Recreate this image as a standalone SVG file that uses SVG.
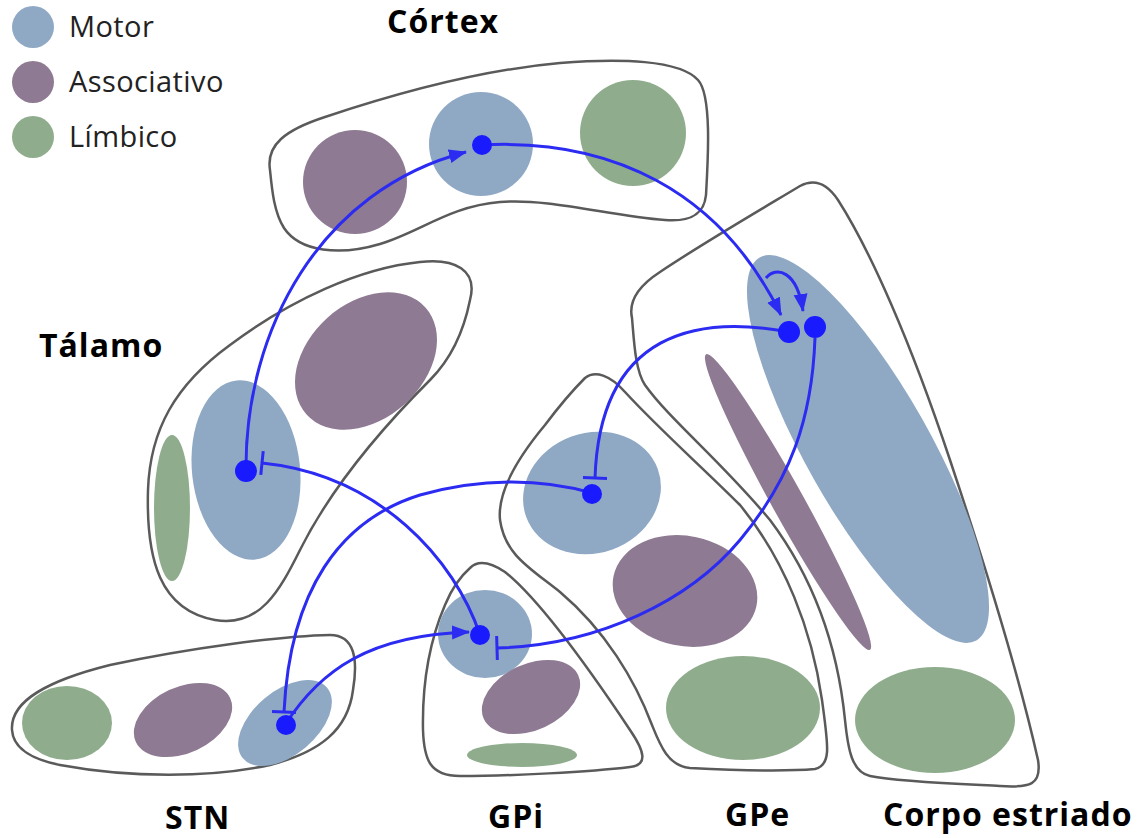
<svg xmlns="http://www.w3.org/2000/svg" width="1148" height="838" viewBox="0 0 1148 838">
<style>
.outline{fill:none;stroke:#5a5a5a;stroke-width:2.5;stroke-linejoin:round}
.mot{fill:#8fa9c5}
.asc{fill:#8e7a92}
.lim{fill:#8fad8d}
.conn{fill:none;stroke:#2b2bf2;stroke-width:3}
.dot{fill:#1a1aff}
.lbl{font-family:"Open Sans","Noto Sans",sans-serif;font-weight:bold;font-size:32px;letter-spacing:1px;fill:#000}
.leg{font-family:"Open Sans","Noto Sans",sans-serif;font-size:29px;letter-spacing:0.4px;fill:#222}
</style>
<defs>
<marker id="arrow" markerUnits="userSpaceOnUse" markerWidth="20" markerHeight="16" refX="17" refY="7" orient="auto">
<path d="M0,0 L18,7 L0,14 Z" fill="#2b2bf2"/>
</marker>
<marker id="tee" markerUnits="userSpaceOnUse" markerWidth="6" markerHeight="28" refX="3" refY="13" orient="auto">
<path d="M3,1 L3,25" stroke="#2b2bf2" stroke-width="3"/>
</marker>
</defs>
<rect width="1148" height="838" fill="#fff"/>

<g id="legend">
<circle cx="33" cy="27" r="21" class="mot"/>
<circle cx="33" cy="82" r="21" class="asc"/>
<circle cx="33" cy="137" r="21" class="lim"/>
<text x="69" y="37" class="leg">Motor</text>
<text x="69" y="92" class="leg">Associativo</text>
<text x="69" y="147" class="leg">Límbico</text>
</g>

<g id="cortex">
<path class="outline" d="M270,170 C266,145 285,130 325,117 C400,92 480,70 560,63 C620,58 680,60 698,80 C712,95 708,160 706,195 C704,215 690,222 665,220 C610,216 550,198 500,202 C450,206 420,232 380,244 C340,256 300,252 284,228 C274,212 272,190 270,170 Z"/>
<circle cx="355" cy="182" r="52" class="asc"/>
<circle cx="481" cy="144" r="52" class="mot"/>
<circle cx="633" cy="133" r="53" class="lim"/>
<text x="387" y="33" class="lbl">Córtex</text>
</g>

<g id="talamo">
<path class="outline" d="M470,300 C478,270 455,258 420,262 C360,268 290,300 230,345 C175,385 150,430 148,490 C146,560 160,610 215,620 C260,628 280,590 300,550 C330,490 380,430 430,380 C455,355 465,325 470,300 Z"/>
<ellipse cx="366" cy="361" rx="80" ry="58" transform="rotate(-42 366 361)" class="asc"/>
<ellipse cx="246" cy="470" rx="54" ry="90" transform="rotate(-6 246 470)" class="mot"/>
<ellipse cx="172" cy="508" rx="18" ry="73" class="lim"/>
<text x="39" y="357" class="lbl">Tálamo</text>
</g>

<g id="stn">
<path class="outline" d="M12,730 C10,700 50,680 110,665 C190,648 280,636 330,635 C355,635 358,660 353,690 C348,730 320,752 270,765 C210,778 130,778 60,765 C25,758 13,745 12,730 Z"/>
<ellipse cx="67" cy="723" rx="45" ry="37" class="lim"/>
<ellipse cx="183" cy="720" rx="52" ry="33" transform="rotate(-25 183 720)" class="asc"/>
<ellipse cx="285" cy="723" rx="55" ry="32" transform="rotate(-40 285 723)" class="mot"/>
<text x="165" y="829" class="lbl">STN</text>
</g>

<g id="gpi">
<path class="outline" d="M470,568 C478,560 490,562 505,572 C540,600 590,670 630,730 C645,752 648,765 630,767 C590,772 510,776 460,776 C430,776 424,760 423,730 C422,680 430,640 445,605 C452,588 462,575 470,568 Z"/>
<ellipse cx="485" cy="634" rx="47" ry="44" class="mot"/>
<ellipse cx="531" cy="697" rx="52" ry="33" transform="rotate(-25 531 697)" class="asc"/>
<ellipse cx="522" cy="755" rx="55" ry="12" class="lim"/>
<text x="488" y="828" class="lbl">GPi</text>
</g>

<g id="gpe">
<path class="outline" d="M585,378 C595,370 610,375 625,392 C660,430 700,465 740,505 C785,560 812,630 822,700 C828,745 832,765 815,769 C780,772 730,770 690,768 C668,766 660,745 652,725 C635,680 605,630 560,592 C530,568 505,555 500,520 C497,490 520,455 545,425 C560,405 575,388 585,378 Z"/>
<ellipse cx="592" cy="493" rx="70" ry="60" transform="rotate(-20 592 493)" class="mot"/>
<ellipse cx="685" cy="591" rx="73" ry="55" transform="rotate(12 685 591)" class="asc"/>
<ellipse cx="743" cy="708" rx="77" ry="52" class="lim"/>
<text x="725" y="826" class="lbl">GPe</text>
</g>

<g id="estriado">
<path class="outline" d="M632,318 C628,300 640,285 660,272 C700,245 760,210 800,186 C815,178 828,185 838,200 C870,250 910,340 950,460 C990,580 1020,680 1038,760 C1042,785 1030,788 1000,786 C960,784 900,782 870,776 C852,772 848,750 845,720 C838,650 815,580 770,520 C720,460 670,420 645,385 C635,370 634,340 632,318 Z"/>
<ellipse cx="868" cy="449" rx="220" ry="62" transform="rotate(60.5 868 449)" class="mot"/>
<ellipse cx="788" cy="502" rx="169" ry="16" transform="rotate(61 788 502)" class="asc"/>
<ellipse cx="935" cy="720" rx="80" ry="53" class="lim"/>
<text x="883" y="826" class="lbl">Corpo estriado</text>
</g>

<g id="connectors">
<path class="conn" d="M246,470 C245,330 320,190 466,152" marker-end="url(#arrow)"/>
<path class="conn" d="M482,145 C610,138 720,190 781,315" marker-end="url(#arrow)"/>
<path class="conn" d="M766,278 C776,266 797,270 803,311" marker-end="url(#arrow)"/>
<path class="conn" d="M789,332 C700,315 600,330 595,478" marker-end="url(#tee)"/>
<path class="conn" d="M815,338 C812,420 790,480 740,540 C690,600 600,645 497,648" marker-end="url(#tee)"/>
<path class="conn" d="M592,493 C540,478 480,478 420,495 C340,520 290,590 284,712" marker-end="url(#tee)"/>
<path class="conn" d="M285,725 C320,670 370,635 469,632" marker-end="url(#arrow)"/>
<path class="conn" d="M480,635 C455,560 380,475 262,463" marker-end="url(#tee)"/>
</g>

<g id="dots">
<circle cx="482" cy="145" r="10" class="dot"/>
<circle cx="246" cy="471" r="11" class="dot"/>
<circle cx="789" cy="332" r="11" class="dot"/>
<circle cx="815" cy="327" r="11" class="dot"/>
<circle cx="592" cy="494" r="10" class="dot"/>
<circle cx="480" cy="635" r="10" class="dot"/>
<circle cx="286" cy="725" r="10" class="dot"/>
</g>
</svg>
